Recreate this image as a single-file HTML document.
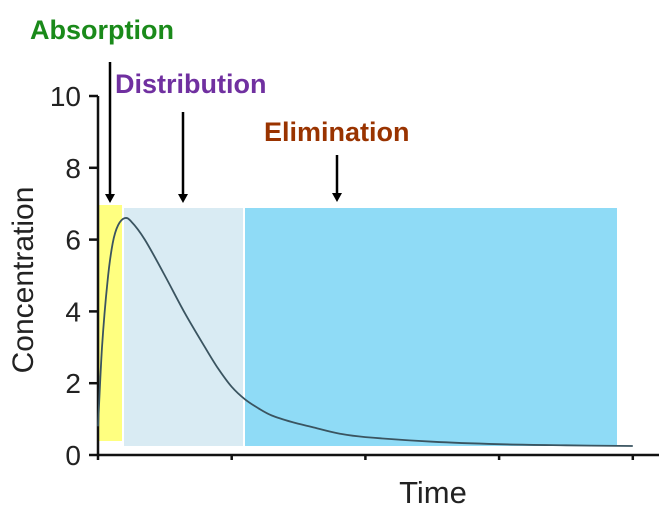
<!DOCTYPE html>
<html><head><meta charset="utf-8"><style>
html,body{margin:0;padding:0;background:#fff;width:659px;height:518px;overflow:hidden}
svg{display:block;font-family:"Liberation Sans",Arial,sans-serif}
</style></head><body>
<svg id="chart" width="659" height="518">
<rect x="99" y="205" width="23" height="236" fill="#ffff80"/>
<rect x="124" y="208" width="119" height="238" fill="#d9ebf3"/>
<rect x="245" y="208" width="372" height="238" fill="#8fdbf6"/>
<g id="axes"></g>
<path id="curve" fill="none" stroke="#3a5460" stroke-width="1.8"/>
<text x="33" y="280" font-size="30" fill="#222" transform="rotate(-90 33 280)" text-anchor="middle">Concentration</text>
<text x="433" y="503" font-size="31" fill="#222" text-anchor="middle">Time</text>
<text x="30" y="39" font-size="27" font-weight="bold" fill="#1a8a1a">Absorption</text>
<text x="115" y="93" font-size="27" font-weight="bold" fill="#7030a0">Distribution</text>
<text x="264" y="141" font-size="27" font-weight="bold" fill="#993300">Elimination</text>
<g><line x1="110" y1="62" x2="110" y2="196" stroke="#000" stroke-width="2.5"/><polygon points="105,194 115,194 110,203" fill="#000"/></g>
<g><line x1="183" y1="112" x2="183" y2="196" stroke="#000" stroke-width="2.5"/><polygon points="178,194 188,194 183,203" fill="#000"/></g>
<g><line x1="337" y1="155" x2="337" y2="195" stroke="#000" stroke-width="2.5"/><polygon points="332,193 342,193 337,202" fill="#000"/></g>
</svg>
<script>
const yTicks=[0,2,4,6,8,10];
const xTicks=[0,1,2,3,4];
const times=[0,0.03,0.07,0.11,0.15,0.2,0.25,0.35,0.5,0.65,0.8,0.9,1.0,1.1,1.2,1.3,1.45,1.6,1.8,2.0,2.5,3.0,3.5,4.0];
const conc=[0.8,3.0,4.8,5.9,6.4,6.6,6.5,6.0,5.0,3.95,3.0,2.4,1.9,1.55,1.3,1.1,0.92,0.78,0.6,0.5,0.37,0.3,0.27,0.25];
const NS="http://www.w3.org/2000/svg";
const X=t=>98+t*133.7, Y=v=>455-v*35.9;
const g=document.getElementById('axes');
function ln(x1,y1,x2,y2,name){const l=document.createElementNS(NS,'line');l.setAttribute('x1',x1);l.setAttribute('y1',y1);l.setAttribute('x2',x2);l.setAttribute('y2',y2);l.setAttribute('stroke','#111');l.setAttribute('stroke-width','2.5');


g.appendChild(l);}
ln(98,Y(10),98,456,'y-axis');
ln(97,455,659,455,'x-axis');
yTicks.forEach(v=>{ln(89,Y(v),98,Y(v),'y-tick');
const t=document.createElementNS(NS,'text');t.setAttribute('x',81);t.setAttribute('y',Y(v)+10);t.setAttribute('text-anchor','end');t.setAttribute('font-size','28');t.setAttribute('fill','#222');t.textContent=v;


g.appendChild(t);});
xTicks.forEach(v=>{ln(X(v),455,X(v),460,'x-tick');});
const P=times.map((t,i)=>[X(t),Y(conc[i])]);
let d='M'+P[0][0].toFixed(1)+','+P[0][1].toFixed(1);
for(let i=0;i<P.length-1;i++){const p0=P[Math.max(0,i-1)],p1=P[i],p2=P[i+1],p3=P[Math.min(P.length-1,i+2)];
const c1=[p1[0]+(p2[0]-p0[0])/6,p1[1]+(p2[1]-p0[1])/6],c2=[p2[0]-(p3[0]-p1[0])/6,p2[1]-(p3[1]-p1[1])/6];
d+='C'+c1.map(n=>n.toFixed(1)).join(',')+' '+c2.map(n=>n.toFixed(1)).join(',')+' '+p2.map(n=>n.toFixed(1)).join(',');}
document.getElementById('curve').setAttribute('d',d);
</script>
</body></html>
